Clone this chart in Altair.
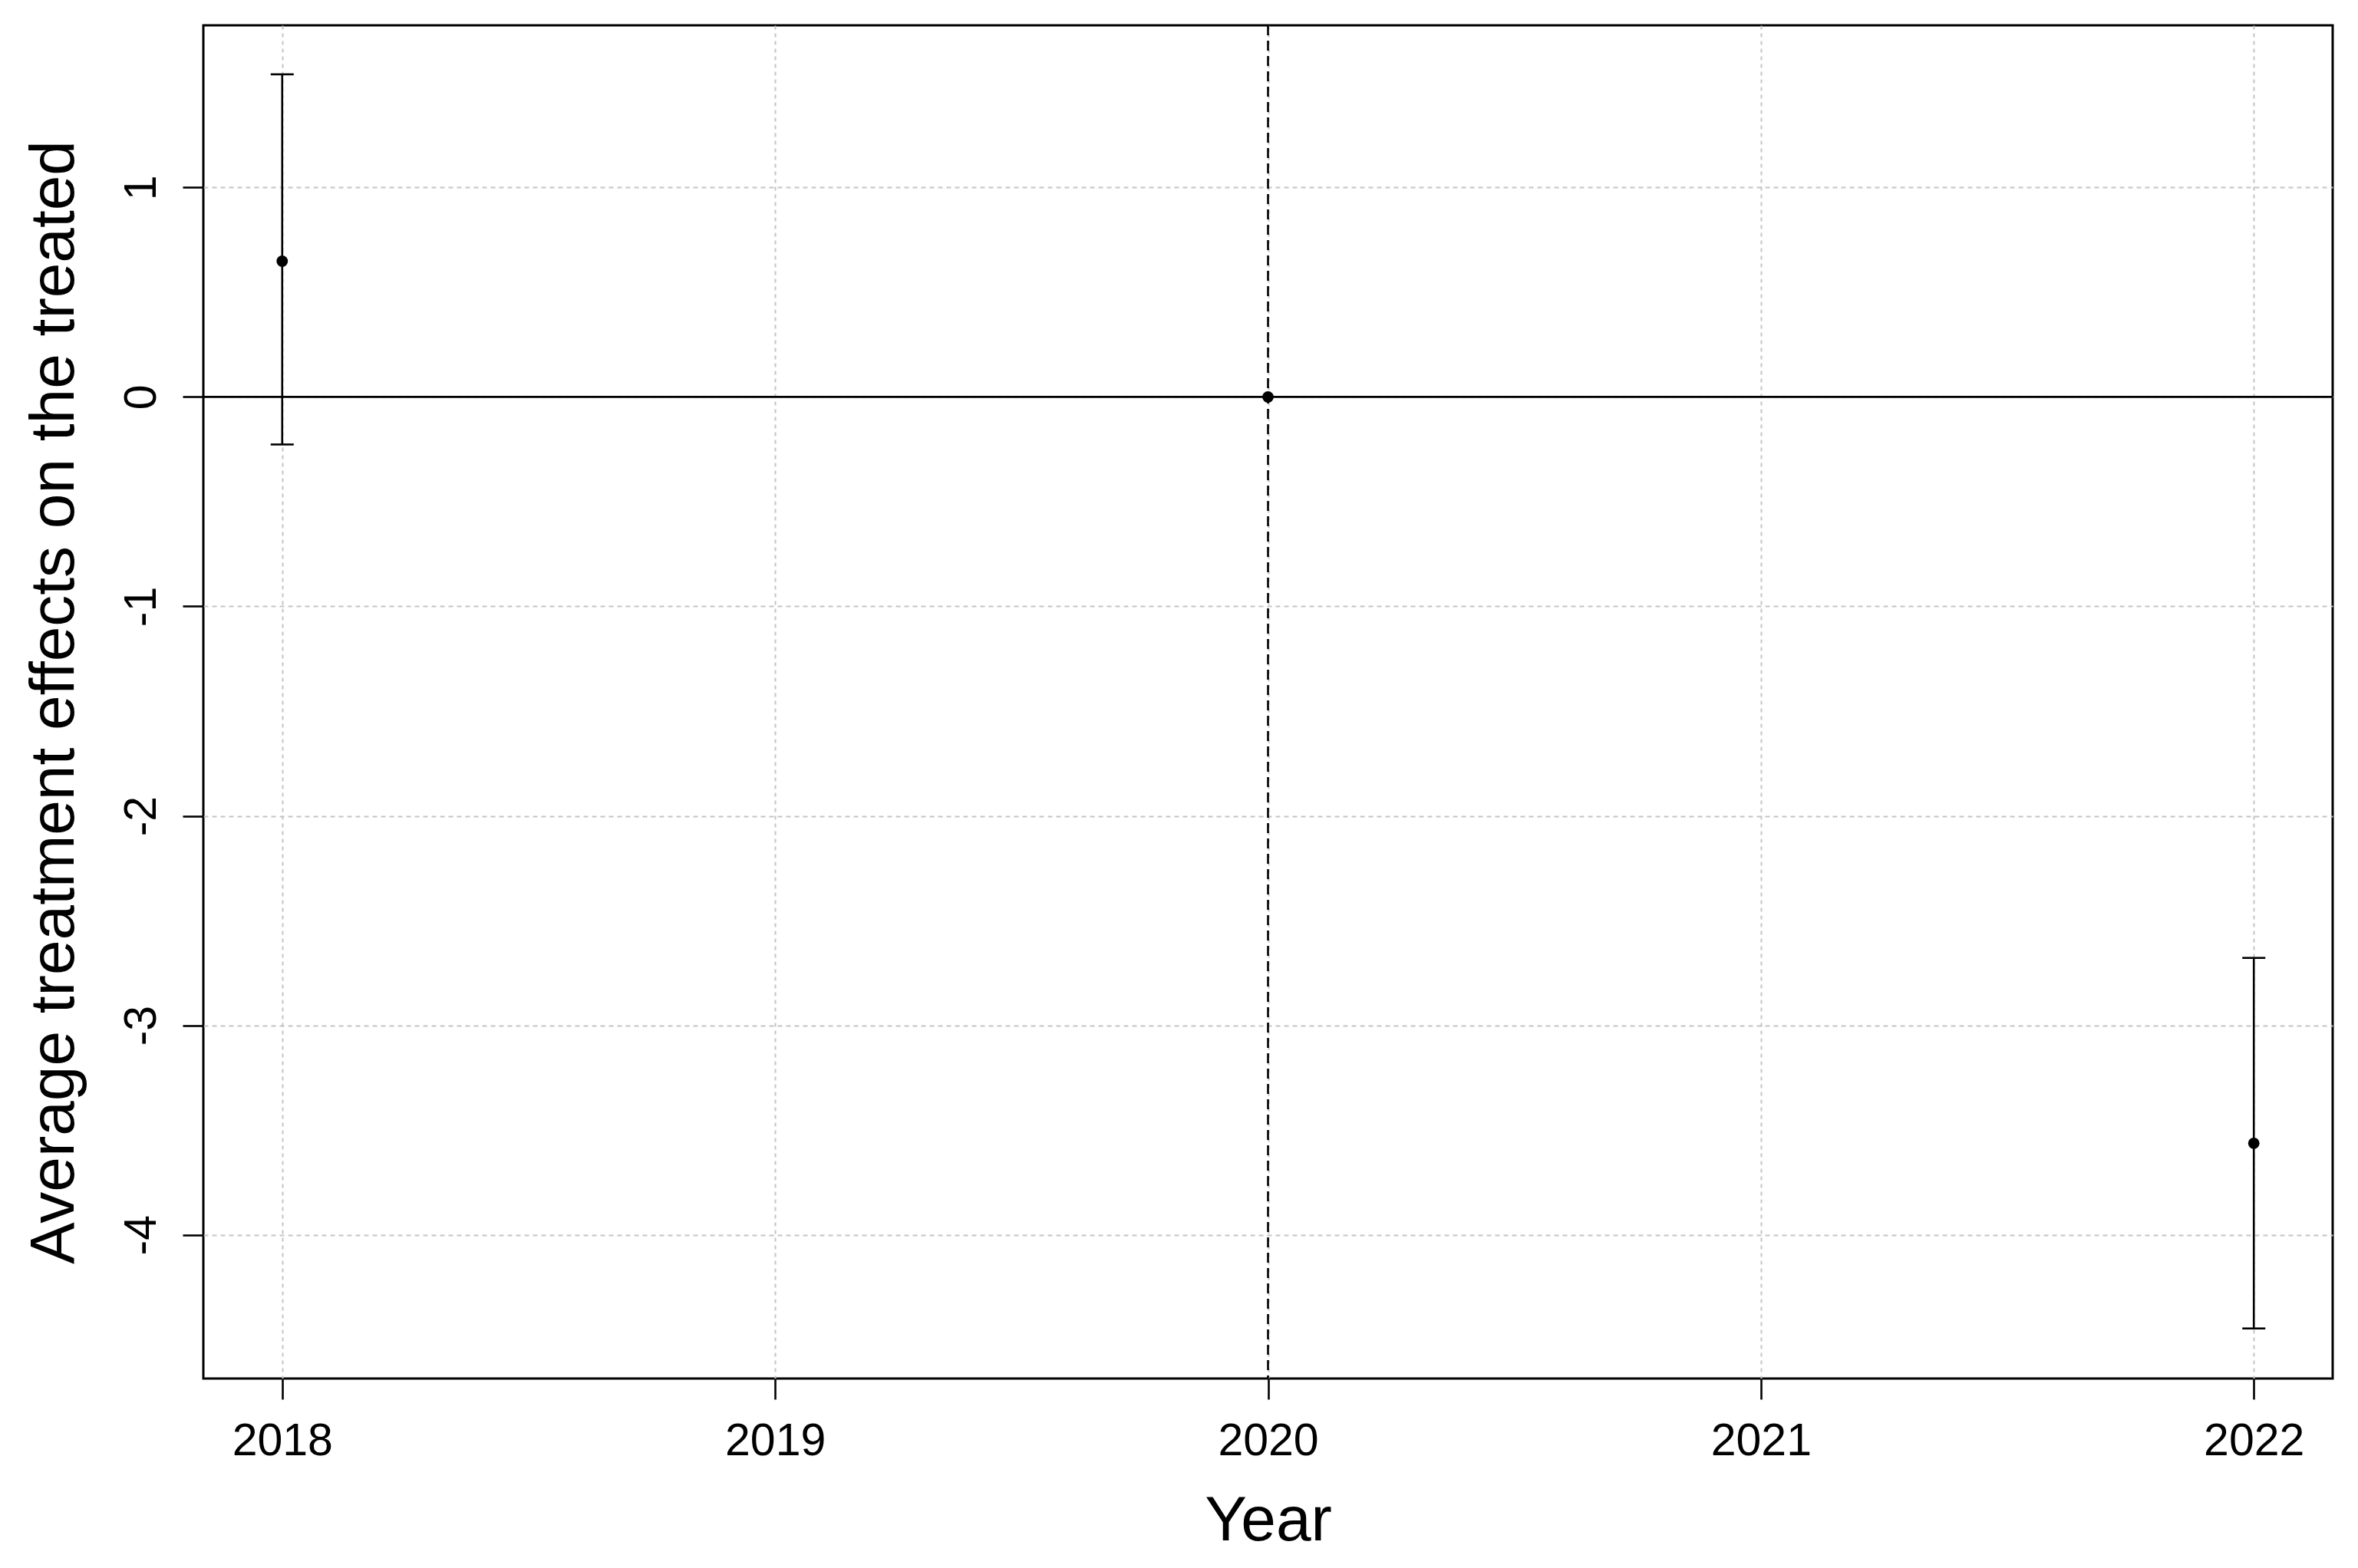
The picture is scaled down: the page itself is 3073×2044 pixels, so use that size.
import altair as alt
import pandas as pd

# ---- data ----
years = [2018, 2020, 2022]
att = [0.648, 0.0, -3.563]
ci_years = [2018, 2022]
ci_lower = [-0.227, -4.447]
ci_upper = [1.540, -2.678]
x_ticks = [2018, 2019, 2020, 2021, 2022]
y_ticks = [-4, -3, -2, -1, 0, 1]
ref_year = [2020]
zero_line = [0]

pts = pd.DataFrame({"year": years, "att": att})
ci = pd.DataFrame({"year": ci_years, "lo": ci_lower, "hi": ci_upper})
vref = pd.DataFrame({"year": ref_year})
href = pd.DataFrame({"v": zero_line})

FONT = "Liberation Sans"
xscale = alt.Scale(domain=[2017.84, 2022.16], nice=False, zero=False)
yscale = alt.Scale(domain=[-4.686, 1.774], nice=False, zero=False)

W, H = 2775, 1764
LW = 2.6

xaxis = alt.Axis(
    values=x_ticks, format="d", title="Year",
    grid=True, gridColor="#c4c4c4", gridDash=[5, 5], gridWidth=2,
    domain=False, tickSize=27, tickWidth=LW, tickColor="black",
    labelFontSize=59, labelPadding=25, labelColor="black", labelFont=FONT,
    labelFlush=False, labelOverlap=False,
    titleFontSize=82, titleFontWeight="normal", titleFont=FONT, titleColor="black",
    titleX=W / 2, titleY=210, titleBaseline="alphabetic", titleAlign="center",
)
yaxis = alt.Axis(
    values=y_ticks, title="Average treatment effects on the treated",
    grid=True, gridColor="#c4c4c4", gridDash=[6, 5], gridWidth=2,
    domain=False, tickSize=27, tickWidth=LW, tickColor="black",
    labelFontSize=59, labelPadding=36, labelColor="black", labelFont=FONT,
    labelAngle=270, labelAlign="center", labelBaseline="alphabetic",
    labelExpr="'' + datum.value", labelFlush=False, labelOverlap=False,
    titleFontSize=82, titleFontWeight="normal", titleFont=FONT, titleColor="black",
    titleAngle=270, titleX=-170, titleY=H / 2, titleBaseline="alphabetic", titleAlign="center",
)

points = alt.Chart(pts).mark_circle(size=220, color="black", opacity=1).encode(
    x=alt.X("year:Q", scale=xscale, axis=xaxis),
    y=alt.Y("att:Q", scale=yscale, axis=yaxis),
)

zero = alt.Chart(href).mark_rule(color="black", strokeWidth=LW).encode(
    y=alt.Y("v:Q", scale=yscale, axis=yaxis),
)

vline = alt.Chart(vref).mark_rule(color="black", strokeWidth=LW, strokeDash=[13, 7]).encode(
    x=alt.X("year:Q", scale=xscale, axis=xaxis),
)

bars = alt.Chart(ci).mark_rule(color="black", strokeWidth=LW).encode(
    x=alt.X("year:Q", scale=xscale, axis=xaxis),
    y=alt.Y("lo:Q", scale=yscale, axis=yaxis),
    y2="hi:Q",
)

cap_lo = alt.Chart(ci).mark_tick(color="black", orient="horizontal", size=30, thickness=LW, opacity=1).encode(
    x=alt.X("year:Q", scale=xscale, axis=xaxis),
    y=alt.Y("lo:Q", scale=yscale, axis=yaxis),
)
cap_hi = alt.Chart(ci).mark_tick(color="black", orient="horizontal", size=30, thickness=LW, opacity=1).encode(
    x=alt.X("year:Q", scale=xscale, axis=xaxis),
    y=alt.Y("hi:Q", scale=yscale, axis=yaxis),
)

chart = alt.layer(zero, vline, bars, cap_lo, cap_hi, points).properties(
    width=W, height=H,
    autosize=alt.AutoSizeParams(type="none"),
    padding={"left": 257, "top": 25, "right": 25, "bottom": 230},
    background="white",
).configure_view(stroke="black", strokeWidth=3)

chart.save("out.html", embed_options={"renderer": "svg", "actions": False})
